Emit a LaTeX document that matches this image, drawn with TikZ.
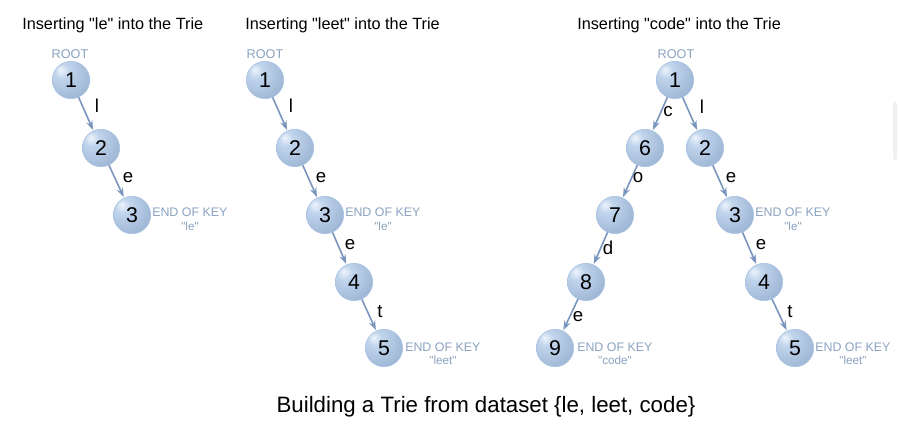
\documentclass[tikz,border=0pt]{standalone}
\usepackage{fontspec}
\setmainfont{Liberation Sans}[Ligatures=TeXOff]
\usetikzlibrary{arrows.meta}
\definecolor{edgeblue}{RGB}{122,150,190}
\definecolor{notegray}{RGB}{138,162,192}
\definecolor{ballhi}{RGB}{238,244,252}
\definecolor{balllight}{RGB}{192,212,236}
\definecolor{ballmid}{RGB}{160,184,214}
\definecolor{balldark}{RGB}{112,122,138}
\definecolor{ballrim}{RGB}{170,196,228}
% glossy sphere with the highlight to the upper left
\pgfdeclareradialshading{sphere}{\pgfpoint{-14bp}{14bp}}{%
  color(0bp)=(ballhi); color(10bp)=(balllight); color(34bp)=(ballmid);
  color(58bp)=(balldark); color(80bp)=(balldark)}
\begin{document}
\begin{tikzpicture}[x=0.75pt,y=-0.75pt,
  trienode/.style={circle,minimum size=28pt,inner sep=0pt,shading=sphere,
    draw=ballrim,line width=0.5pt,font=\fontsize{16}{16}\selectfont},
  link/.style={draw=edgeblue,line width=1.2pt,-{Stealth[length=7pt,width=5pt]},shorten >=0.5pt},
  letter/.style={font=\fontsize{14}{14}\selectfont,inner sep=0pt},
  heading/.style={font=\fontsize{12.2}{14}\selectfont,anchor=west,inner sep=0pt},
  rootlbl/.style={font=\fontsize{9.5}{10}\selectfont,text=notegray,inner sep=0pt},
  endlbl/.style={font=\fontsize{9.3}{10}\selectfont,text=notegray,inner sep=0pt},
  keylbl/.style={font=\fontsize{8.8}{9}\selectfont,text=notegray,inner sep=0pt}]
\useasboundingbox (0,0) rectangle (899,427);

% headings
\node[heading] (h1) at (22,25) {Inserting "le" into the Trie};
\node[heading] (h2) at (245,25) {Inserting "leet" into the Trie};
\node[heading] (h3) at (577,25) {Inserting "code" into the Trie};

% trie after "le"
\node[rootlbl] (r1) at (70,54) {ROOT};
\node[trienode] (a1) at (71,80) {1};
\node[trienode] (a2) at (101,148) {2};
\node[trienode] (a3) at (132,215) {3};
\draw[link] (a1) -- (a2);
\draw[link] (a2) -- (a3);
\node[letter] (la1) at (97,106) {l};
\node[letter] (la2) at (128,178) {e};
\node[endlbl,anchor=west] (ea) at (152,212) {END OF KEY};
\node[keylbl] (ka) at (190,226) {"le"};

% trie after "leet"
\node[rootlbl] (r2) at (265,54) {ROOT};
\node[trienode] (b1) at (265,80) {1};
\node[trienode] (b2) at (295,148) {2};
\node[trienode] (b3) at (325,215) {3};
\node[trienode] (b4) at (354,282) {4};
\node[trienode] (b5) at (384,348) {5};
\draw[link] (b1) -- (b2);
\draw[link] (b2) -- (b3);
\draw[link] (b3) -- (b4);
\draw[link] (b4) -- (b5);
\node[letter] (lb1) at (291,106) {l};
\node[letter] (lb2) at (321,178) {e};
\node[letter] (lb3) at (350,245) {e};
\node[letter] (lb4) at (380,312) {t};
\node[endlbl,anchor=west] (eb3) at (345,212) {END OF KEY};
\node[keylbl] (kb3) at (383,226) {"le"};
\node[endlbl,anchor=west] (eb5) at (405,347) {END OF KEY};
\node[keylbl] (kb5) at (443,360) {"leet"};

% trie after "code"
\node[rootlbl] (r3) at (676,54) {ROOT};
\node[trienode] (c1) at (675,80) {1};
\node[trienode] (c6) at (645,148) {6};
\node[trienode] (c7) at (615,215) {7};
\node[trienode] (c8) at (586,282) {8};
\node[trienode] (c9) at (555,348) {9};
\node[trienode] (c2) at (705,148) {2};
\node[trienode] (c3) at (735,215) {3};
\node[trienode] (c4) at (764,282) {4};
\node[trienode] (c5) at (795,348) {5};
\draw[link] (c1) -- (c6);
\draw[link] (c6) -- (c7);
\draw[link] (c7) -- (c8);
\draw[link] (c8) -- (c9);
\draw[link] (c1) -- (c2);
\draw[link] (c2) -- (c3);
\draw[link] (c3) -- (c4);
\draw[link] (c4) -- (c5);
\node[letter] (lc1) at (668,112) {c};
\node[letter] (lc6) at (638,178) {o};
\node[letter] (lc7) at (608,248) {d};
\node[letter] (lc8) at (578,317) {e};
\node[letter] (lc2) at (702,107) {l};
\node[letter] (lc3) at (731,178) {e};
\node[letter] (lc4) at (761,245) {e};
\node[letter] (lc5) at (790,312) {t};
\node[endlbl,anchor=west] (ec9) at (577,347) {END OF KEY};
\node[keylbl] (kc9) at (615,360) {"code"};
\node[endlbl,anchor=west] (ec3) at (755,212) {END OF KEY};
\node[keylbl] (kc3) at (793,226) {"le"};
\node[endlbl,anchor=west] (ec5) at (815,347) {END OF KEY};
\node[keylbl] (kc5) at (853,360) {"leet"};

% faint side bar
\fill[rounded corners=1pt,fill=black!6] (893,102) rectangle (897,160);

% caption
\node[font=\fontsize{16.7}{18}\selectfont,inner sep=0pt] (cap) at (486,407) {Building a Trie from dataset \{le, leet, code\}};
\end{tikzpicture}
\end{document}
